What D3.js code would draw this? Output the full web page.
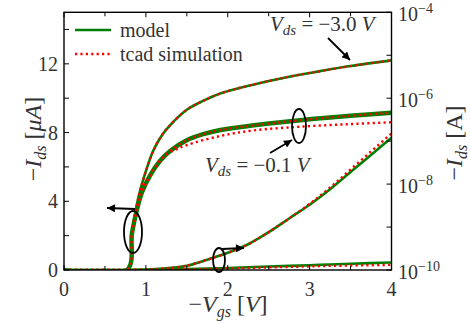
<!DOCTYPE html>
<html>
<head>
<meta charset="utf-8">
<script src="https://cdn.jsdelivr.net/npm/d3@7"></script>
<style>
body { margin: 0; background: #fff; }
svg text { font-family: "Liberation Serif", "Times New Roman", serif; fill: #333; }
</style>
</head>
<body>
<svg width="471" height="324"></svg>
<script>
// linear-scale curves (left axis, uA)
var linVgs = [0, 0.5, 1.0, 1.25, 1.5, 1.75, 2.0, 2.25, 2.5, 2.75, 3.0, 3.25, 3.5, 3.75, 4.0];
var linModelHigh = [0, 0, 0.03, 0.1, 0.25, 0.6, 1.0, 1.5, 2.2, 3.0, 3.8, 4.7, 5.7, 6.7, 7.7];
var linTcadHigh  = [0, 0, 0.03, 0.1, 0.25, 0.6, 1.0, 1.5, 2.2, 3.0, 3.85, 4.8, 5.85, 6.9, 7.95];
var linModelLow  = [0, 0, 0, 0.02, 0.05, 0.08, 0.12, 0.16, 0.2, 0.24, 0.28, 0.32, 0.36, 0.4, 0.44];
var linTcadLow   = [0, 0, 0, 0.01, 0.03, 0.06, 0.09, 0.12, 0.15, 0.18, 0.21, 0.24, 0.26, 0.28, 0.3];

// log-scale curves (right axis, A)
var logVgsHigh = [0, 0.77, 0.83, 0.91, 1.0, 1.09, 1.2, 1.3, 1.5, 1.7, 1.91, 2.32, 2.72, 3.13, 3.5, 4.0];
var logHigh = [1e-10, 1e-10, 7.2e-10, 5.0e-9, 2.0e-8, 6.0e-8, 1.41e-7, 2.4e-7, 5.4e-7, 8.7e-7, 1.29e-6, 2.09e-6, 3.09e-6, 4.27e-6, 5.6e-6, 7.6e-6];
var logVgsLow = [0, 0.77, 0.83, 0.89, 0.95, 1.05, 1.174, 1.3, 1.5, 1.7, 1.91, 2.32, 2.8, 3.13, 3.5, 4.0];
var logModelLow = [1e-10, 1e-10, 7.2e-10, 2.5e-9, 6.3e-9, 1.58e-8, 3.5e-8, 6.0e-8, 1.05e-7, 1.45e-7, 1.82e-7, 2.34e-7, 2.95e-7, 3.4e-7, 3.9e-7, 4.6e-7];
var logVgsTcadLow = [0, 0.77, 0.83, 0.89, 0.95, 1.05, 1.174, 1.3, 1.5, 1.91, 2.32, 2.92, 3.5, 4.0];
var logTcadLow = [1e-10, 1e-10, 7.2e-10, 2.5e-9, 6.3e-9, 1.58e-8, 3.5e-8, 5.5e-8, 8.1e-8, 1.32e-7, 1.78e-7, 2.19e-7, 2.5e-7, 2.75e-7];

var xTicks = [0, 1, 2, 3, 4];
var yTicks = [0, 4, 8, 12];
var logTicks = [-10, -8, -6, -4];

var svg = d3.select("svg");
var pL = 64, pR = 391.5, pT = 12.3, pB = 270;
var green = "#008000", red = "#ff0000";

var x = d3.scaleLinear().domain([0, 4]).range([pL, pR]);
var y = d3.scaleLinear().domain([0, 15]).range([pB, pT]);
var yLog = d3.scaleLog().domain([1e-10, 1e-4]).range([pB, pT]).clamp(true);

function zip(xs, ys) {
    return xs.map(function (v, i) { return [v, ys[i]]; });
}

var lineLin = d3.line().x(function (d) { return x(d[0]); }).y(function (d) { return y(d[1]); })
        .curve(d3.curveMonotoneX);
var lineLog = d3.line().x(function (d) { return x(d[0]); }).y(function (d) { return yLog(d[1]); })
        .curve(d3.curveCatmullRom.alpha(0.5));

svg.append("clipPath").attr("id", "clip").append("rect")
        .attr("x", pL).attr("y", pT).attr("width", pR - pL).attr("height", pB - pT);
var curves = svg.append("g").attr("clip-path", "url(#clip)");

function model(path, w) {
    curves.append("path").attr("d", path).attr("fill", "none")
            .attr("stroke", green).attr("stroke-width", w || 2.6);
}
function tcad(path) {
    curves.append("path").attr("d", path).attr("fill", "none")
            .attr("stroke", red).attr("stroke-width", 2.4).attr("stroke-dasharray", "2.2,3.2");
}

model(lineLin(zip(linVgs, linModelLow)));
tcad(lineLin(zip(linVgs, linTcadLow)));
model(lineLin(zip(linVgs, linModelHigh)));
tcad(lineLin(zip(linVgs, linTcadHigh)));
model(lineLog(zip(logVgsLow, logModelLow)), 4.5);
tcad(lineLog(zip(logVgsLow, logModelLow)));
tcad(lineLog(zip(logVgsTcadLow, logTcadLow)));
model(lineLog(zip(logVgsHigh, logHigh)));
tcad(lineLog(zip(logVgsHigh, logHigh)));

// frame
svg.append("rect").attr("x", pL).attr("y", pT).attr("width", pR - pL).attr("height", pB - pT)
        .attr("fill", "none").attr("stroke", "#000").attr("stroke-width", 1.4);

// ticks (inward)
var tk = svg.append("g").attr("stroke", "#000").attr("stroke-width", 1);
d3.range(0, 4.01, 0.5).forEach(function (v) {
    var len = v % 1 === 0 ? 5 : 4;
    tk.append("line").attr("x1", x(v)).attr("x2", x(v)).attr("y1", pB).attr("y2", pB - len);
    tk.append("line").attr("x1", x(v)).attr("x2", x(v)).attr("y1", pT).attr("y2", pT + len);
});
d3.range(0, 15, 2).forEach(function (v) {
    tk.append("line").attr("x1", pL).attr("x2", pL + 5).attr("y1", y(v)).attr("y2", y(v));
});
d3.range(-10, -3).forEach(function (e) {
    var v = Math.pow(10, e);
    tk.append("line").attr("x1", pR).attr("x2", pR - 5).attr("y1", yLog(v)).attr("y2", yLog(v));
});

// tick labels
svg.append("g").selectAll("text").data(xTicks).join("text")
        .attr("x", function (d) { return x(d); }).attr("y", 296)
        .attr("text-anchor", "middle").attr("font-size", 20).text(function (d) { return d; });
svg.append("g").selectAll("text").data(yTicks).join("text")
        .attr("x", 58).attr("y", function (d) { return y(d) + 7; })
        .attr("text-anchor", "end").attr("font-size", 20).text(function (d) { return d; });
var rl = svg.append("g").selectAll("text").data(logTicks).join("text")
        .attr("x", 398).attr("y", function (d) { return yLog(Math.pow(10, d)) + 9; })
        .attr("font-size", 20);
rl.append("tspan").text("10");
rl.append("tspan").attr("dy", -8).attr("font-size", 14).text(function (d) { return "\u2212" + (-d); });

// axis titles
var xt = svg.append("text").attr("x", 228).attr("y", 312).attr("text-anchor", "middle").attr("font-size", 24);
xt.append("tspan").text("\u2212");
xt.append("tspan").attr("font-style", "italic").text("V");
xt.append("tspan").attr("font-style", "italic").attr("font-size", 16).attr("dy", 5).text("gs");
xt.append("tspan").attr("dy", -5).text(" [");
xt.append("tspan").attr("font-style", "italic").text("V");
xt.append("tspan").text("]");

var yt = svg.append("text").attr("transform", "translate(41,139) rotate(-90)")
        .attr("text-anchor", "middle").attr("font-size", 24);
yt.append("tspan").text("\u2212");
yt.append("tspan").attr("font-style", "italic").text("I");
yt.append("tspan").attr("font-style", "italic").attr("font-size", 16).attr("dy", 5).text("ds");
yt.append("tspan").attr("dy", -5).text(" [");
yt.append("tspan").attr("font-style", "italic").text("\u03bcA");
yt.append("tspan").text("]");

var ry = svg.append("text").attr("transform", "translate(462,143) rotate(-90)")
        .attr("text-anchor", "middle").attr("font-size", 24);
ry.append("tspan").text("\u2212");
ry.append("tspan").attr("font-style", "italic").text("I");
ry.append("tspan").attr("font-style", "italic").attr("font-size", 16).attr("dy", 5).text("ds");
ry.append("tspan").attr("dy", -5).text(" [A]");

// legend
svg.append("line").attr("x1", 75).attr("x2", 111).attr("y1", 30).attr("y2", 30)
        .attr("stroke", green).attr("stroke-width", 2.6);
svg.append("line").attr("x1", 75).attr("x2", 111).attr("y1", 54).attr("y2", 54)
        .attr("stroke", red).attr("stroke-width", 2.4).attr("stroke-dasharray", "2.2,3.2");
svg.append("text").attr("x", 120).attr("y", 37).attr("font-size", 20).text("model");
svg.append("text").attr("x", 120).attr("y", 61).attr("font-size", 20).text("tcad simulation");

// annotations
function vdsLabel(px, py, val) {
    var t = svg.append("text").attr("x", px).attr("y", py).attr("font-size", 21);
    t.append("tspan").attr("font-style", "italic").text("V");
    t.append("tspan").attr("font-style", "italic").attr("font-size", 15).attr("dy", 4).text("ds");
    t.append("tspan").attr("dy", -4).text(" = \u2212" + val + " ");
    t.append("tspan").attr("font-style", "italic").text("V");
}
vdsLabel(270, 31, "3.0");
vdsLabel(205, 172, "0.1");

svg.append("defs").append("marker").attr("id", "arr").attr("viewBox", "0 0 10 10")
        .attr("refX", 10).attr("refY", 5).attr("markerWidth", 11).attr("markerHeight", 8)
        .attr("markerUnits", "userSpaceOnUse").attr("orient", "auto")
        .append("path").attr("d", "M0,0L10,5L0,10z").attr("fill", "#000");

function arrow(x1, y1, x2, y2) {
    svg.append("line").attr("x1", x1).attr("y1", y1).attr("x2", x2).attr("y2", y2)
            .attr("stroke", "#000").attr("stroke-width", 1.8).attr("marker-end", "url(#arr)");
}
function ellipse(cx, cy, rx, ry) {
    svg.append("ellipse").attr("cx", cx).attr("cy", cy).attr("rx", rx).attr("ry", ry)
            .attr("fill", "none").attr("stroke", "#000").attr("stroke-width", 1.8);
}
arrow(328, 38, 350, 60);
ellipse(299, 126, 7, 17);
arrow(270, 153, 292, 140);
ellipse(133, 232, 9, 21);
arrow(135, 209, 107, 208);
ellipse(219, 260, 6, 12);
arrow(222, 249, 244, 248);
</script>
</body>
</html>
